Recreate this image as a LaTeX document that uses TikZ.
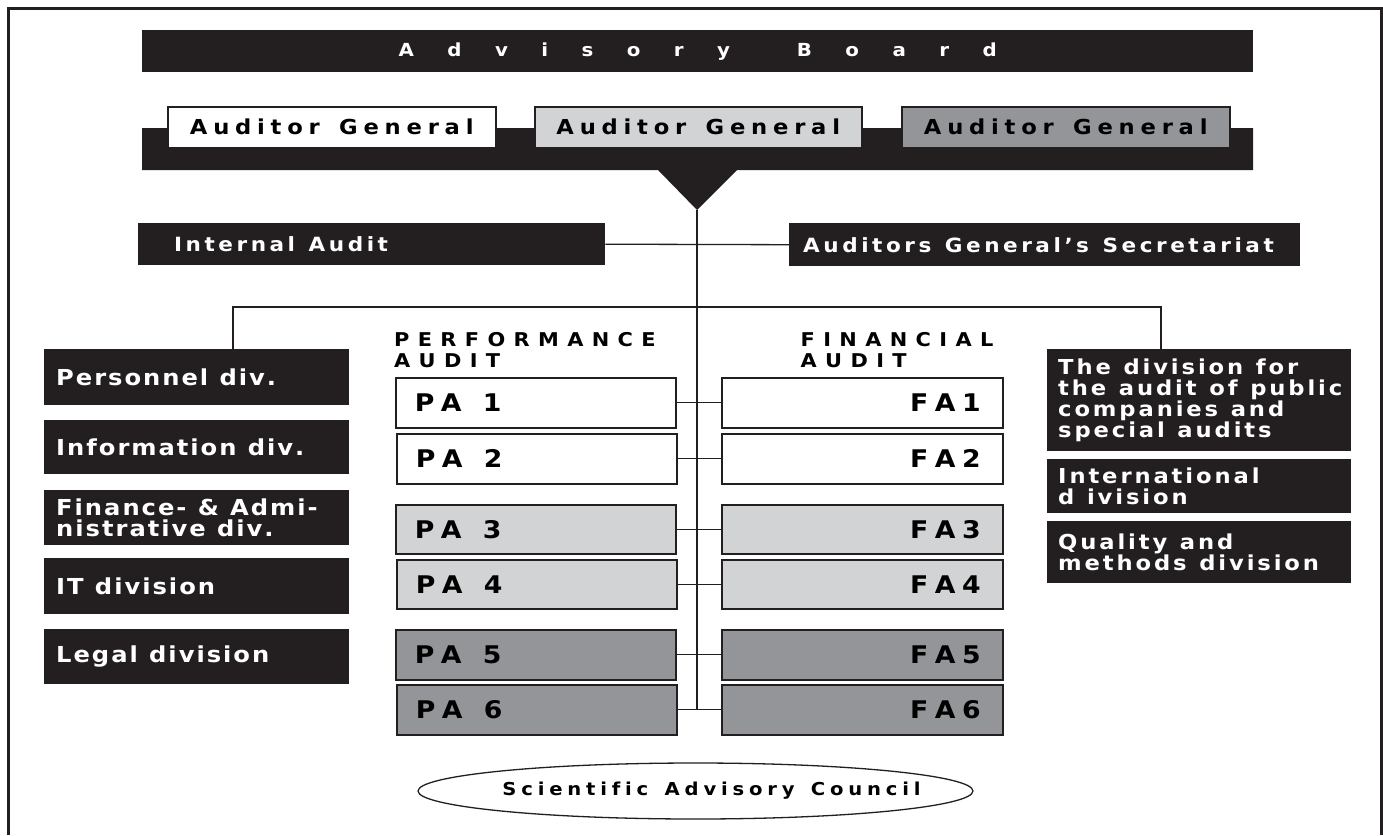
\documentclass[tikz,border=0pt]{standalone}
\usepackage{fontspec}
\setmainfont{DejaVu Sans}[FakeStretch=1.1]
\usetikzlibrary{shapes.geometric}
\definecolor{ink}{HTML}{231F20}
\definecolor{lgray}{HTML}{D1D3D4}
\definecolor{dgray}{HTML}{939598}
\makeatletter
% letter-spaced text: \trk{amount}{text with ~ for spaces}
\newcommand\trk[2]{{\def\tk@sep{}\@tfor\tk@x:=#2\do{\tk@sep\tk@x\def\tk@sep{\kern#1}}}}
\makeatother
\newcommand\fsz[2]{\fontsize{#1}{#2}\selectfont\bfseries}
\begin{document}
\begin{tikzpicture}[x=1pt,y=-1pt,
  conn/.style={draw=ink, line width=1.3pt},
  blk/.style={fill=ink, text=white, inner ysep=0pt, anchor=north west, align=left},
  agbox/.style={draw=ink, line width=1.5pt, anchor=north west, inner sep=0pt, minimum height=41pt,
    font=\fsz{20.6}{24}},
  topbox/.style={blk, font=\fsz{19.6}{22}},
  leftbox/.style={blk, minimum width=305pt, inner xsep=12pt, text width=281pt, font=\fsz{22}{21}},
  rightbox/.style={blk, minimum width=304pt, inner xsep=11pt, text width=282pt, font=\fsz{20.6}{21.1}},
  pabox/.style={draw=ink, line width=1.6pt, anchor=north west, minimum width=280pt, inner ysep=0pt,
    inner xsep=19pt, text width=242pt, align=left, font=\fsz{24.3}{26}},
  fabox/.style={draw=ink, line width=1.6pt, anchor=north west, minimum width=281pt, inner ysep=0pt,
    inner xsep=22pt, text width=237pt, align=right, font=\fsz{24.3}{26}},
  head/.style={anchor=base west, inner sep=0pt, font=\fsz{19}{21}}
]
\useasboundingbox (0,0) rectangle (1383,835);
\fill[white] (0,0) rectangle (1383,835);
% frame
\draw[ink, line width=2.8pt] (8.7,835) -- (8.7,8.7) -- (1381.5,8.7) -- (1381.5,835);

% advisory board
\node[fill=ink, text=white, anchor=north west, minimum width=1111pt, minimum height=42pt, inner sep=0pt,
  font=\fsz{18}{20}] (board) at (142,30)
  {\makebox[598pt][s]{A\hfill d\hfill v\hfill i\hfill s\hfill o\hfill r\hfill y\hfill\hfill B\hfill o\hfill a\hfill r\hfill d}};

% band with pointer
\fill[ink] (142,128) -- (1253,128) -- (1253,170) -- (737,170) -- (697,210) -- (658,170) -- (142,170) -- cycle;
\coordinate (apex) at (697,210);

\node[agbox, fill=white, minimum width=328pt] (ag1) at (167,106) {\trk{.28em}{Auditor~General}};
\node[agbox, fill=lgray, minimum width=327pt] (ag2) at (534,106) {\trk{.28em}{Auditor~General}};
\node[agbox, fill=dgray, minimum width=328pt] (ag3) at (901,106) {\trk{.28em}{Auditor~General}};

% internal audit / secretariat
\node[topbox, minimum width=467pt, minimum height=42pt, inner xsep=36pt, text width=395pt] (internal) at (138,223) {\trk{.18em}{Internal~Audit}};
\node[topbox, minimum width=511pt, minimum height=43pt, inner xsep=14pt, text width=483pt] (sec) at (789,223) {\trk{.18em}{Auditors~General's~Secretariat}};

% left divisions
\node[leftbox, minimum height=56pt] (pers) at (44,349) {\trk{.09em}{Personnel~div.}};
\node[leftbox, minimum height=54pt] (info) at (44,420) {\trk{.09em}{Information~div.}};
\node[leftbox, minimum height=55pt] (fin) at (44,490) {\mbox{\trk{.09em}{Finance-~\&~Admi-}}\\\mbox{\trk{.09em}{nistrative~div.}}};
\node[leftbox, minimum height=56pt] (it) at (44,558) {\trk{.09em}{IT~division}};
\node[leftbox, minimum height=55pt] (legal) at (44,629) {\trk{.09em}{Legal~division}};

% right divisions
\node[rightbox, minimum height=102pt] (rb1) at (1047,349) {\mbox{\trk{.14em}{The~division~for}}\\\mbox{\trk{.14em}{the~audit~of~public}}\\\mbox{\trk{.14em}{companies~and}}\\\mbox{\trk{.14em}{special~audits}}};
\node[rightbox, minimum height=54pt] (rb2) at (1047,459) {\mbox{\trk{.14em}{International}}\\\mbox{\trk{.14em}{d~ivision}}};
\node[rightbox, minimum height=62pt] (rb3) at (1047,521) {\mbox{\trk{.14em}{Quality~and}}\\\mbox{\trk{.14em}{methods~division}}};

% headings
\node[head] (perf) at (394,346) {\parbox[t]{300pt}{\trk{.44em}{PERFORMANCE}\\\trk{.44em}{AUDIT}}};
\node[head] (finh) at (800.5,346) {\parbox[t]{300pt}{\trk{.44em}{FINANCIAL}\\\trk{.44em}{AUDIT}}};

% PA / FA boxes
\node[pabox, fill=white, minimum height=50pt] (pa1) at (395,377) {\trk{.27em}{PA~1}};
\node[pabox, fill=white, minimum height=50pt] (pa2) at (396,433) {\trk{.27em}{PA~2}};
\node[pabox, fill=lgray, minimum height=49pt] (pa3) at (395,504) {\trk{.27em}{PA~3}};
\node[pabox, fill=lgray, minimum height=49pt] (pa4) at (396,559) {\trk{.27em}{PA~4}};
\node[pabox, fill=dgray, minimum height=50pt] (pa5) at (395,629) {\trk{.27em}{PA~5}};
\node[pabox, fill=dgray, minimum height=50pt] (pa6) at (396,684) {\trk{.27em}{PA~6}};
\node[fabox, fill=white, minimum height=50pt] (fa1) at (721,377) {\trk{.27em}{FA1}};
\node[fabox, fill=white, minimum height=50pt] (fa2) at (721,433) {\trk{.27em}{FA2}};
\node[fabox, fill=lgray, minimum height=49pt] (fa3) at (721,504) {\trk{.27em}{FA3}};
\node[fabox, fill=lgray, minimum height=49pt] (fa4) at (721,559) {\trk{.27em}{FA4}};
\node[fabox, fill=dgray, minimum height=50pt] (fa5) at (721,629) {\trk{.27em}{FA5}};
\node[fabox, fill=dgray, minimum height=50pt] (fa6) at (721,684) {\trk{.27em}{FA6}};

% scientific advisory council
\node[ellipse, draw=ink, line width=1.3pt, minimum width=555pt, minimum height=56pt, inner sep=0pt,
  font=\fsz{17.8}{20}] (sac) at (695.5,791) {\makebox[0pt]{\hspace*{32pt}\trk{.27em}{Scientific~Advisory~Council}}};

% connectors
\draw[conn] (apex) -- (apex |- pa6.east);
\draw[conn] (internal.east) -- (sec.west);
\coordinate (busL) at (233,307);
\coordinate (busR) at (1161,307);
\draw[conn] (busL |- pers.north) -- (busL) -- (busR) -- (busR |- rb1.north);
\foreach \i in {1,...,6} { \draw[conn] (pa\i.east) -- (fa\i.west); }
\end{tikzpicture}
\end{document}
